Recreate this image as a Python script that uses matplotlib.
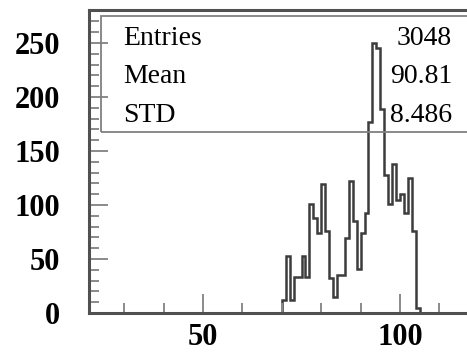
import matplotlib
matplotlib.use("Agg")
import matplotlib.pyplot as plt
from matplotlib.patches import Rectangle
from matplotlib.ticker import MultipleLocator
import numpy as np

# %% Data (1-unit bins)
bin_edges = np.arange(70, 106)
counts = [12, 53, 12, 33, 33, 53, 33, 101, 88, 74, 119, 76, 32, 15, 35, 35,
          69, 122, 85, 41, 74, 93, 177, 250, 245, 189, 128, 101, 138, 105,
          110, 93, 125, 76, 5]

stat_names = ["Entries", "Mean", "STD"]
stat_values = ["3048", "90.81", "8.486"]

# %% Style
plt.rcParams.update({
    "font.family": "Liberation Serif",
    "axes.linewidth": 2.2,
})
W, H = 467, 354
fig = plt.figure(figsize=(W / 100, H / 100), dpi=100)

# axes frame in pixel terms; right edge runs off the picture like the original
ax = fig.add_axes([89 / W, (H - 313) / H, 378 / W, 303 / H])
ax.stairs(counts, bin_edges, color="#3c3c3c", linewidth=1.8, baseline=0)

ax.set_xlim(21.07, 117.0)
ax.set_ylim(0, 280.5)

for s in ["left", "bottom", "top"]:
    ax.spines[s].set_color("#505050")
ax.spines["right"].set_visible(False)

ax.xaxis.set_major_locator(MultipleLocator(50))
ax.xaxis.set_minor_locator(MultipleLocator(10))
ax.yaxis.set_major_locator(MultipleLocator(50))
ax.yaxis.set_minor_locator(MultipleLocator(10))
ax.tick_params(which="both", direction="in", color="#8a8a8a", width=1.4,
               top=False, right=False)
ax.tick_params(which="major", length=14)
ax.tick_params(which="minor", length=7)
ax.tick_params(axis="y", which="major", pad=21, labelsize=22)
ax.tick_params(axis="x", which="major", pad=7, labelsize=22)
for lab in ax.get_xticklabels() + ax.get_yticklabels():
    lab.set_fontweight("bold")

# %% Statistics box
box = Rectangle((101 / W, (H - 132) / H), 1.0, (132 - 16) / H,
                transform=fig.transFigure, fill=False,
                edgecolor="#808080", linewidth=1.3)
fig.patches.append(box)

baselines = [45, 83, 122]
for name, val, yb in zip(stat_names, stat_values, baselines):
    fig.text(123 / W, (H - yb) / H, name, fontsize=20, va="baseline", ha="left")
    fig.text(452 / W, (H - yb) / H, val, fontsize=20, va="baseline", ha="right")

fig.savefig("out.png", dpi=100)
